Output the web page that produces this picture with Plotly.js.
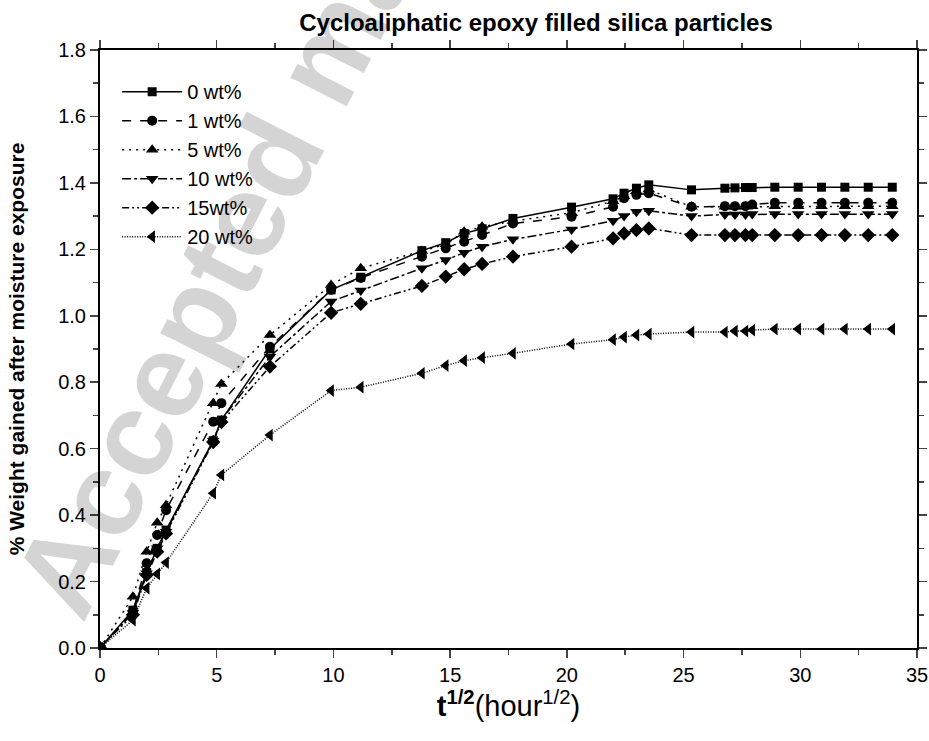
<!DOCTYPE html>
<html>
<head>
<meta charset="utf-8">
<script src="https://cdn.plot.ly/plotly-3.0.1.min.js"></script>
<style>html,body{margin:0;padding:0;background:#fff;}#chart{width:929px;height:741px;}</style>
</head>
<body>
<div id="chart"></div>
<script>
// square root of exposure time (hour^1/2)
var sqrtTime = [0, 1.41, 2.0, 2.45, 2.83, 4.85, 5.2, 7.28, 9.9, 11.17, 13.79, 14.81, 15.6, 16.37, 17.69, 20.2, 21.98, 22.45, 22.98, 23.51, 25.34, 26.77, 27.2, 27.65, 27.94, 28.91, 29.91, 30.91, 31.91, 32.91, 33.94];

var seriesNames = ["0 wt%", "1 wt%", "5 wt%", "10 wt%", "15wt%", "20 wt%"];

var w0  = [0, 0.114, 0.227, 0.30, 0.355, 0.624, 0.686, 0.90, 1.078, 1.116, 1.196, 1.22, 1.248, 1.262, 1.293, 1.327, 1.352, 1.369, 1.384, 1.394, 1.379, 1.384, 1.385, 1.386, 1.386, 1.387, 1.387, 1.387, 1.387, 1.387, 1.387];
var w1  = [0, 0.11, 0.255, 0.34, 0.415, 0.681, 0.737, 0.907, 1.078, 1.114, 1.178, 1.203, 1.223, 1.243, 1.278, 1.298, 1.328, 1.354, 1.364, 1.369, 1.328, 1.33, 1.33, 1.33, 1.335, 1.34, 1.34, 1.34, 1.34, 1.34, 1.34];
var w5  = [0, 0.154, 0.29, 0.377, 0.43, 0.737, 0.795, 0.942, 1.093, 1.143, 1.195, 1.215, 1.253, 1.268, 1.285, 1.31, 1.345, 1.36, 1.375, 1.38, 1.328, 1.328, 1.328, 1.328, 1.33, 1.33, 1.33, 1.33, 1.33, 1.33, 1.33];
var w10 = [0, 0.105, 0.225, 0.30, 0.35, 0.624, 0.686, 0.877, 1.043, 1.076, 1.143, 1.168, 1.19, 1.208, 1.23, 1.26, 1.286, 1.30, 1.313, 1.316, 1.30, 1.305, 1.305, 1.305, 1.306, 1.306, 1.306, 1.306, 1.306, 1.306, 1.306];
var w15 = [0, 0.10, 0.22, 0.29, 0.345, 0.62, 0.68, 0.847, 1.009, 1.036, 1.09, 1.118, 1.14, 1.156, 1.178, 1.208, 1.233, 1.248, 1.258, 1.263, 1.243, 1.243, 1.243, 1.243, 1.243, 1.243, 1.243, 1.243, 1.243, 1.243, 1.243];
var w20 = [0, 0.084, 0.18, 0.223, 0.257, 0.466, 0.521, 0.641, 0.775, 0.785, 0.827, 0.85, 0.865, 0.874, 0.887, 0.915, 0.928, 0.936, 0.942, 0.945, 0.951, 0.951, 0.954, 0.954, 0.957, 0.96, 0.96, 0.96, 0.96, 0.96, 0.96];

var yTickVals = [0, 0.2, 0.4, 0.6, 0.8, 1.0, 1.2, 1.4, 1.6, 1.8];
var yTickText = ["0.0", "0.2", "0.4", "0.6", "0.8", "1.0", "1.2", "1.4", "1.6", "1.8"];
var xTickVals = [0, 5, 10, 15, 20, 25, 30, 35];

var allY = [w0, w1, w5, w10, w15, w20];
var symbols = ["square", "circle", "triangle-up", "triangle-down", "diamond", "triangle-left"];
var dashes = ["solid", "dash", "2px,5px", "dashdot", "7px,3px,2px,3px,2px,3px", "1px,1.5px"];
var sizes = [9, 10, 11, 11, 11, 11];

var traces = allY.map(function (ys, i) {
  return {
    x: sqrtTime, y: ys, name: seriesNames[i], type: "scatter", mode: "lines+markers",
    line: {color: "#000", width: 1.5, dash: dashes[i]},
    marker: {symbol: symbols[i], size: sizes[i], color: "#000"}
  };
});

var baseFont = "Liberation Sans, Arial, sans-serif";

var layout = {
  width: 929, height: 741,
  margin: {l: 100, r: 12, t: 50, b: 93},
  paper_bgcolor: "#fff", plot_bgcolor: "#fff",
  font: {family: baseFont, color: "#000", size: 20},
  title: {text: "<b>Cycloaliphatic epoxy filled silica particles</b>", font: {size: 24, family: baseFont}, x: 0.577, xanchor: "center", y: 0.969, yanchor: "middle"},
  showlegend: true,
  legend: {x: 0.021, y: 0.963, xanchor: "left", yanchor: "top", bgcolor: "rgba(0,0,0,0)", font: {size: 20}, tracegroupgap: 0, itemwidth: 60},
  xaxis: {
    range: [0, 35], tickvals: xTickVals, ticks: "outside", ticklen: 8, tickwidth: 1.5,
    showline: true, linewidth: 2, linecolor: "#000", mirror: "allticks", showgrid: false, zeroline: false,
    minor: {dtick: 2.5, ticks: "outside", ticklen: 5, tickwidth: 1.5, showgrid: false},
    tickfont: {size: 20},
    title: {text: "<b>t<sup>1/2</sup></b>(hour<sup>1/2</sup>)", font: {size: 29}, standoff: 8}
  },
  yaxis: {
    range: [0, 1.8], tickvals: yTickVals, ticktext: yTickText, ticks: "outside", ticklen: 8, tickwidth: 1.5,
    showline: true, linewidth: 2, linecolor: "#000", mirror: "allticks", showgrid: false, zeroline: false,
    minor: {dtick: 0.1, ticks: "outside", ticklen: 5, tickwidth: 1.5, showgrid: false},
    tickfont: {size: 20},
    title: {text: "<b>% Weight gained after moisture exposure</b>", font: {size: 21}, standoff: 28}
  },
  annotations: [{
    text: "<b>Accepted manuscript</b>", xref: "paper", yref: "paper", x: 0.272, y: 0.98,
    xanchor: "center", yanchor: "middle", showarrow: false, textangle: -63,
    font: {size: 120, color: "rgba(0,0,0,0.17)", family: baseFont}
  }]
};

Plotly.newPlot("chart", traces, layout, {displayModeBar: false, staticPlot: true});
</script>
</body>
</html>
